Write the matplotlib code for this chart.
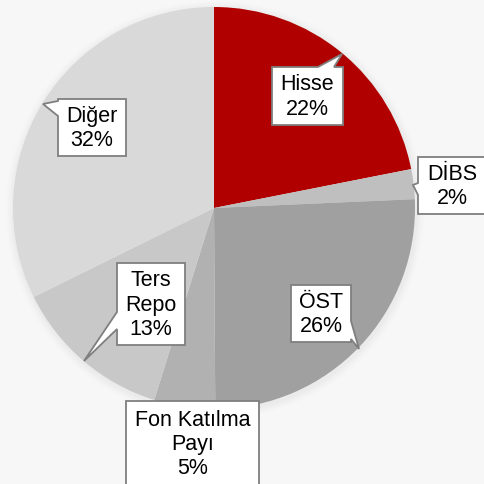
import matplotlib.pyplot as plt
from matplotlib.patches import Circle, Polygon

plt.rcParams['font.family'] = ['Liberation Sans', 'DejaVu Sans']

# portfolio split
labels = ['Hisse', 'DİBS', 'ÖST', 'Fon Katılma\nPayı', 'Ters\nRepo', 'Diğer']
shares = [21.9, 2.4, 25.6, 4.9, 12.9, 32.3]
colors = ['#B00000', '#BFBFBF', '#A0A0A0', '#B1B1B1', '#C8C8C8', '#D9D9D9']

W, H = 484, 485

# callout boxes in pixels (x0, y0, x1, y1), y from the top
boxes = [
    (272, 68, 343, 126),
    (418, 158, 486, 215),
    (291, 286, 351, 343),
    (126, 402, 259, 487),
    (117, 264, 185, 346),
    (58, 100, 126, 157),
]
# tails: which side, base start/end along that side, tip point
tails = [
    ('top', 318, 334, (342, 55)),
    ('left', 184, 196, (413, 186)),
    ('right', 322, 340, (359, 350)),
    None,
    ('left', 313, 330, (84, 362)),
    ('left', 102, 117, (43, 105)),
]


def callout_shape(box, tail):
    x0, y0, x1, y1 = box
    if tail is None:
        pts = [(x0, y0), (x1, y0), (x1, y1), (x0, y1)]
    else:
        side, a, b, tip = tail
        if side == 'top':
            pts = [(x0, y0), (a, y0), tip, (b, y0), (x1, y0), (x1, y1), (x0, y1)]
        elif side == 'right':
            pts = [(x0, y0), (x1, y0), (x1, a), tip, (x1, b), (x1, y1), (x0, y1)]
        else:
            pts = [(x0, y0), (x1, y0), (x1, y1), (x0, y1), (x0, b), tip, (x0, a)]
    return [(x, H - y) for x, y in pts]


fig = plt.figure(figsize=(4.84, 4.85), dpi=100)
fig.patch.set_facecolor('#F7F7F7')
ax = fig.add_axes([0, 0, 1, 1])
ax.set_facecolor('#F7F7F7')

cx, cy, r = 214, H - 209, 201

# soft shadow round the pie
for i, a in enumerate([0.05, 0.04, 0.03, 0.02]):
    ax.add_patch(Circle((cx + 1, cy - 2), r + 2 + 2 * i, color='#B0B0B0', alpha=a, lw=0, zorder=0))

ax.pie(shares, colors=colors, startangle=90, counterclock=False,
       center=(cx, cy), radius=r, wedgeprops=dict(linewidth=0))

ax.set_xlim(0, W)
ax.set_ylim(0, H)
ax.set_aspect('equal')
ax.axis('off')

for lab, val, box, tail in zip(labels, shares, boxes, tails):
    ax.add_patch(Polygon(callout_shape(box, tail), closed=True, fc='white',
                         ec='#7F7F7F', lw=1.3, zorder=5, joinstyle='miter'))
    x0, y0, x1, y1 = box
    ax.text((x0 + x1) / 2, H - (y0 + y1) / 2, f'{lab}\n{val:.0f}%',
            ha='center', va='center', fontsize=15.5, linespacing=1.2, zorder=6)

fig.savefig('out.png', dpi=100, facecolor=fig.get_facecolor())
